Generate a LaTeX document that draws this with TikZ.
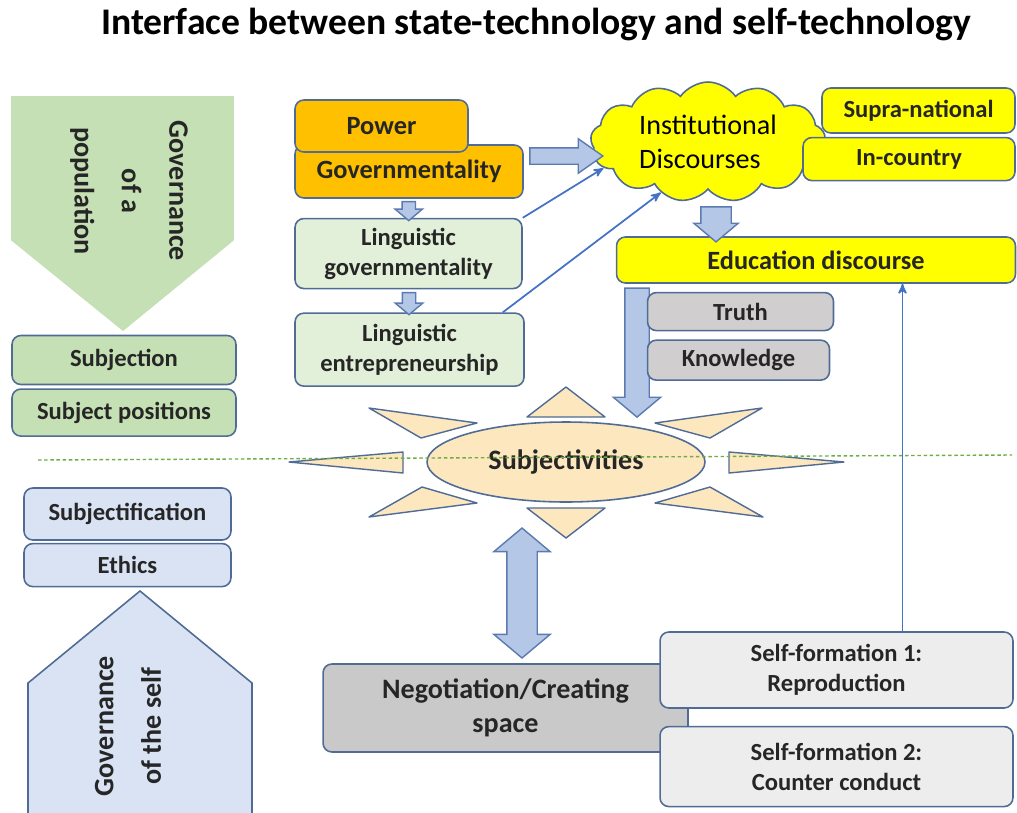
\documentclass[tikz,border=0pt]{standalone}
\usepackage{fontspec}
\setmainfont{Carlito}
\usepackage{tikz}
\usetikzlibrary{arrows,positioning,shapes.geometric,shapes.symbols,shapes.arrows,calc}

\definecolor{edgeblue}{HTML}{4F6B96}
\definecolor{linkblue}{HTML}{4472C4}
\definecolor{arrfill}{HTML}{B4C7E7}
\definecolor{arredge}{HTML}{5B7AB0}
\definecolor{popgreen}{HTML}{C5E0B4}
\definecolor{palegreen}{HTML}{E2F0D9}
\definecolor{powerorange}{HTML}{FFC000}
\definecolor{discyellow}{HTML}{FFFF00}
\definecolor{truthgray}{HTML}{D0CECE}
\definecolor{neggray}{HTML}{C9C9C9}
\definecolor{selfgray}{HTML}{EDEDED}
\definecolor{selfblue}{HTML}{DAE3F3}
\definecolor{sunfill}{HTML}{FDE7BE}
\definecolor{midline}{HTML}{70AD47}

\begin{document}
\begin{tikzpicture}[x=0.02cm,y=-0.02cm,>=stealth',line width=0.9pt]
\tikzstyle{box} = [draw=edgeblue,rounded corners=5pt,align=center,inner sep=0pt,text=black!85,font=\bfseries\fontsize{14}{17}\selectfont]
\tikzstyle{gbox} = [box,fill=popgreen]
\tikzstyle{lgbox} = [box,fill=palegreen]
\tikzstyle{obox} = [box,fill=powerorange,font=\bfseries\fontsize{15}{18}\selectfont]
\tikzstyle{ybox} = [box,fill=discyellow]
\tikzstyle{tbox} = [box,fill=truthgray]
\tikzstyle{sbox} = [box,fill=selfgray]
\tikzstyle{bbox} = [box,fill=selfblue]
\tikzstyle{bigtext} = [align=center,text=black!85,font=\bfseries\fontsize{16}{27}\selectfont]
\tikzstyle{barrow} = [draw=arredge,fill=arrfill,line width=0.8pt,inner xsep=0pt,single arrow tip angle=100]
\tikzstyle{ray} = [draw=edgeblue,fill=sunfill,line width=0.8pt,line join=round]
\useasboundingbox (0,0) rectangle (1017,812);

    \node[font=\bfseries\fontsize{21.4}{24}\selectfont] (title) at (536,24) {Interface between state-technology and self-technology};

    % governance of a population
    \filldraw[fill=popgreen,draw=popgreen] (12,97) -- (233,97) -- (233,240) -- (123,330) -- (12,240) -- cycle;
    \node[bigtext,rotate=-90] (poplabel) at (129,191) {Governance\\of a\\population};
    \node[gbox,minimum width=4.48cm,minimum height=0.98cm] (subj) at (124,360) {Subjection};
    \node[gbox,minimum width=4.48cm,minimum height=0.94cm] (subjpos) [below=0.06cm of subj] {Subject positions};

    % governance of the self
    \node[bbox,minimum width=4.14cm,minimum height=1.04cm] (subjfic) at (127.5,514) {Subjectification};
    \node[bbox,minimum width=4.14cm,minimum height=0.86cm] (ethics) [below=0.04cm of subjfic] {Ethics};
    \filldraw[fill=selfblue,draw=edgeblue] (28,814) -- (28,683) -- (140,591) -- (252,683) -- (252,814);
    \node[bigtext,rotate=90] (selflabel) at (128,726) {Governance\\of the self};

    % power side
    \node[obox,minimum width=4.56cm,minimum height=1.06cm] (govm) at (409,171.5) {Governmentality};
    \node[obox,minimum width=3.46cm,minimum height=1.04cm] (power) at (381.5,126) {Power};
    \node[lgbox,minimum width=4.54cm,minimum height=1.4cm] (linggov) [below=0.38cm of govm.south west,anchor=north west] {Linguistic\\governmentality};
    \node[lgbox,minimum width=4.58cm,minimum height=1.46cm] (lingent) [below=0.46cm of linggov.south west,anchor=north west] {Linguistic\\entrepreneurship};

    % discourses
    \node[cloud,cloud puffs=13,cloud puff arc=110,aspect=2,draw=edgeblue,fill=discyellow,inner sep=0pt,
          minimum width=4.7cm,minimum height=2.4cm,align=left,font=\fontsize{16}{19}\selectfont] (cloud) at (708,142) {Institutional\\Discourses};
    \node[ybox,minimum width=3.86cm,minimum height=0.9cm] (supra) at (918.5,110.5) {Supra-national};
    \node[ybox,minimum width=4.24cm,minimum height=0.86cm] (incountry) [below=0.06cm of supra.south east,anchor=north east] {In-country};
    \node[ybox,minimum width=7.98cm,minimum height=0.92cm,font=\bfseries\fontsize{15}{18}\selectfont] (educ) at (816,260) {Education discourse};

    % block arrows
    \node[barrow,single arrow,single arrow tip angle=70,minimum height=1.46cm,inner ysep=0.15cm,single arrow head extend=0.18cm] (a1) at (560.5,156) {};
    \node[barrow,single arrow,rotate=-90,minimum height=0.38cm,inner ysep=0.12cm,single arrow head extend=0.14cm] (a2) at ($(govm.south)!0.5!(linggov.north)$) {};
    \node[barrow,single arrow,rotate=-90,minimum height=0.44cm,inner ysep=0.12cm,single arrow head extend=0.14cm] (a3) at ($(linggov.south)!0.5!(lingent.north)$) {};
    \node[barrow,single arrow,rotate=-90,minimum height=0.7cm,inner ysep=0.29cm,single arrow head extend=0.14cm] (a4) at (716,218) {};
    \node[barrow,single arrow,rotate=-90,minimum height=2.58cm,inner ysep=0.23cm,single arrow head extend=0.23cm] (a5) at (637,347.5) {};
    \node[barrow,double arrow,double arrow tip angle=100,rotate=90,minimum height=2.6cm,inner ysep=0.29cm,double arrow head extend=0.26cm] (a6) at (522,593) {};

    \node[tbox,minimum width=3.72cm,minimum height=0.76cm] (truth) [below=0.16cm of educ.south west,anchor=north west,xshift=0.62cm] {Truth};
    \node[tbox,minimum width=3.64cm,minimum height=0.8cm] (knowledge) [below=0.16cm of truth.south west,anchor=north west] {Knowledge};

    % subjectivities
    \node[ellipse,draw=edgeblue,fill=sunfill,minimum width=5.56cm,minimum height=1.6cm,inner sep=0pt,
          text=black!85,font=\bfseries\fontsize{16}{19}\selectfont] (sun) at (566,462) {Subjectivities};
    \foreach \ax/\ay/\bx/\by/\cx/\cy in {0/-75/-39/-45/39/-45, 0/76/-39/46/39/46,
        -277/0/-163/-10/-163/11, 278/0/163/-10/163/11,
        -197/-54/-89/-39/-145/-24, 196/-54/89/-39/144/-24,
        -144/25/-89/41/-197/55, 144/25/89/41/197/55}
      \draw[ray,shift={(sun.center)}] (\ax,\ay) -- (\bx,\by) -- (\cx,\cy) -- cycle;

    \coordinate (mid west) at (38,460);
    \coordinate (mid east) at (1012,455);
    \draw[midline,line width=0.8pt,dash pattern=on 2pt off 1.5pt] (mid west) -- (mid east);

    % negotiation and self-formation
    \node[box,fill=neggray,minimum width=7.3cm,minimum height=1.76cm,font=\bfseries\fontsize{16}{19}\selectfont] (negot) at (505.5,708) {Negotiation/Creating\\space};
    \node[sbox,minimum width=7.06cm,minimum height=1.52cm] (sf1) at (836.5,670) {Self-formation 1:\\Reproduction};
    \node[sbox,minimum width=7.06cm,minimum height=1.6cm] (sf2) [below=0.34cm of sf1] {Self-formation 2:\\Counter conduct};

    \tikzset{thinarr/.style={->,draw=linkblue,line width=1pt}}
    \draw[thinarr] (linggov.north east) -- (cloud.194);
    \draw[thinarr] ([xshift=-0.44cm]lingent.north east) -- (cloud.227);
    \draw[thinarr] ([xshift=1.32cm]sf1.north) -- ([xshift=1.32cm]sf1.north |- educ.south);
\end{tikzpicture}
\end{document}
